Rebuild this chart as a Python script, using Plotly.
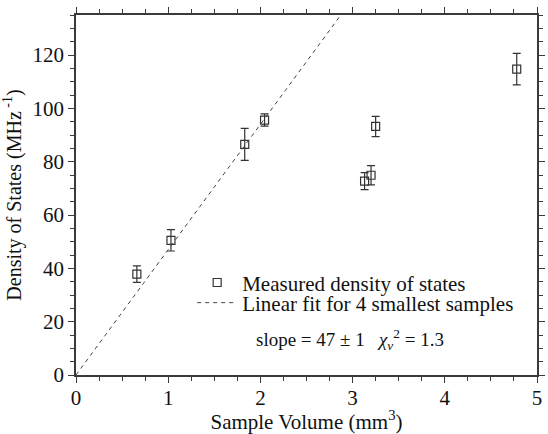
import plotly.graph_objects as go

# Data
volume = [0.66, 1.03, 1.83, 2.045, 3.13, 3.20, 3.25, 4.78]
density = [37.8, 50.5, 86.5, 95.6, 72.7, 74.9, 93.2, 114.7]
density_err = [3.1, 4.0, 6.0, 2.3, 3.2, 3.6, 3.8, 5.9]
fit_slope = 47
fit_x = [0, 135 / fit_slope]
fit_y = [fit_slope * v for v in fit_x]

FONT = "Liberation Serif"
AX = "#3a3a3a"
FS = 21

fig = go.Figure()
fig.add_trace(go.Scatter(
    x=volume, y=density, mode="markers",
    name="Measured density of states", legend="legend",
    marker=dict(symbol="square-open", size=8, color="#333333", line=dict(width=1.2)),
    error_y=dict(type="data", array=density_err, visible=True, color="#333333",
                 thickness=1.2, width=4),
))
fig.add_trace(go.Scatter(
    x=fit_x, y=fit_y, mode="lines",
    name="Linear fit for 4 smallest samples", legend="legend2",
    line=dict(color="#444444", width=1, dash="4px,4px"),
))

axis_common = dict(
    showline=True, linecolor=AX, linewidth=1.5, mirror="allticks",
    ticks="outside", ticklen=6, tickwidth=1.2, tickcolor=AX,
    showgrid=False, zeroline=False,
    tickfont=dict(family=FONT, size=FS, color="#111"),
)

fig.update_xaxes(
    range=[0, 5], dtick=1, tick0=0, ticklabelstandoff=-3,
    minor=dict(dtick=0.25, ticks="outside", ticklen=4, tickwidth=1.2, tickcolor=AX),
    title=dict(text="Sample Volume (mm<sup>3</sup>)", font=dict(family=FONT, size=FS, color="#111"), standoff=4),
    **axis_common,
)
fig.update_yaxes(
    range=[0, 135], dtick=20, tick0=0,
    minor=dict(dtick=5, ticks="outside", ticklen=4, tickwidth=1.2, tickcolor=AX),
    title=dict(text="Density of States (MHz<sup> -1</sup>)", font=dict(family=FONT, size=FS - 1, color="#111"), standoff=6),
    **axis_common,
)

fig.add_annotation(
    xref="paper", yref="paper", x=0.595, y=0.10, xanchor="center", yanchor="middle",
    text="slope = 47 ± 1   <i>χ</i><sub><i>ν</i></sub><sup>2</sup> = 1.3",
    showarrow=False, font=dict(family=FONT, size=FS - 2, color="#111"),
)

legend_style = dict(xanchor="left", yanchor="middle", bgcolor="rgba(0,0,0,0)",
                    font=dict(family=FONT, size=FS, color="#111"), itemwidth=40)

fig.update_layout(
    width=548, height=434,
    margin=dict(l=76, r=3, t=15, b=59),
    paper_bgcolor="white", plot_bgcolor="white",
    showlegend=True,
    legend=dict(x=0.252, y=0.256, **legend_style),
    legend2=dict(x=0.252, y=0.200, **legend_style),
)

fig.write_html("out.html")
